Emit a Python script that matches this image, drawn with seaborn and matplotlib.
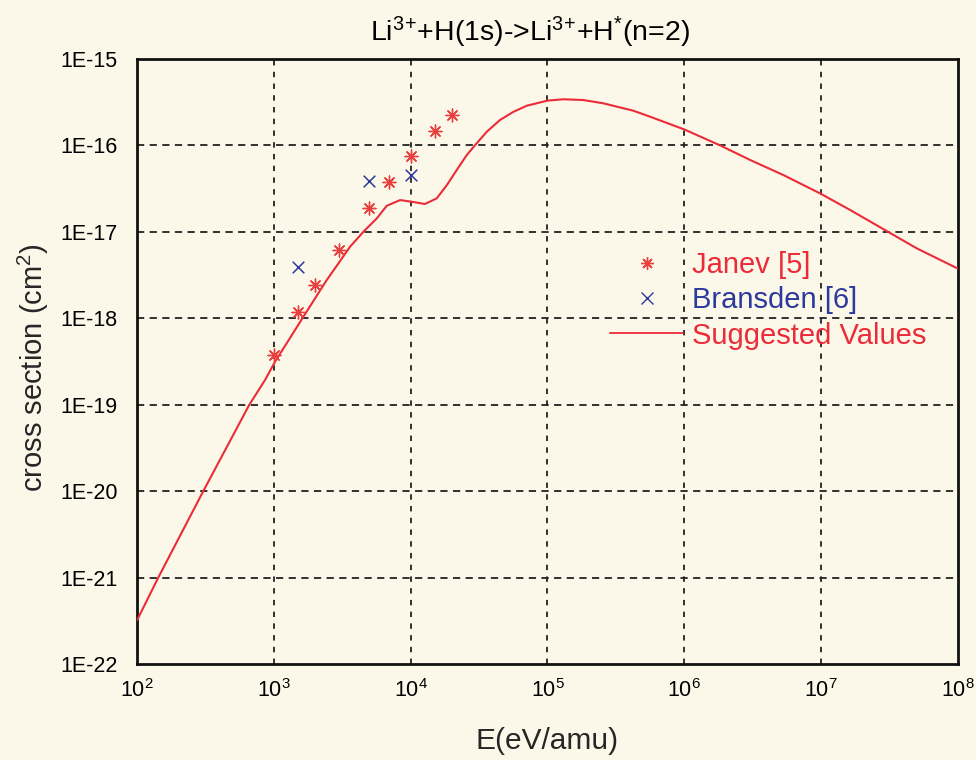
import numpy as np
import pandas as pd
import matplotlib
matplotlib.use("Agg")
import matplotlib.pyplot as plt
import matplotlib.ticker as mticker
from matplotlib.lines import Line2D
import seaborn as sns

# ---- data ----
janev_E = [1.0e3, 1.5e3, 2.0e3, 3.0e3, 5.0e3, 7.0e3, 1.0e4, 1.5e4, 2.0e4]
janev_sigma = [3.75e-19, 1.17e-18, 2.4e-18, 6.1e-18, 1.88e-17, 3.8e-17, 7.5e-17, 1.48e-16, 2.23e-16]

bransden_E = [1.5e3, 5.0e3, 1.0e4]
bransden_sigma = [3.95e-18, 3.9e-17, 4.5e-17]

suggested_E = [100, 143, 305, 662, 862, 1020, 1643, 2436, 3606, 4508, 5649, 6683,
               8365, 1.02e4, 1.27e4, 1.55e4, 1.84e4, 2.17e4, 2.57e4, 2.96e4, 3.60e4,
               4.50e4, 5.64e4, 7.06e4, 1.0e5, 1.31e5, 1.83e5, 2.56e5, 3.21e5, 4.25e5,
               5.62e5, 1.0e6, 1.83e6, 3.03e6, 5.3e6, 9.8e6, 1.63e7, 3.1e7, 5.0e7, 1.0e8]
suggested_sigma = [3.2e-22, 1.0e-21, 1.0e-20, 1.0e-19, 1.93e-19, 3.14e-19, 1.04e-18,
                   2.77e-18, 6.73e-18, 1.0e-17, 1.43e-17, 2.0e-17, 2.33e-17, 2.23e-17,
                   2.10e-17, 2.44e-17, 3.48e-17, 5.19e-17, 7.74e-17, 1.01e-16, 1.44e-16,
                   1.97e-16, 2.45e-16, 2.88e-16, 3.3e-16, 3.42e-16, 3.35e-16, 3.07e-16,
                   2.81e-16, 2.52e-16, 2.15e-16, 1.53e-16, 1.0e-16, 6.78e-17, 4.54e-17,
                   2.79e-17, 1.79e-17, 9.96e-18, 6.44e-18, 3.75e-18]

y_major = [1e-15, 1e-16, 1e-17, 1e-18, 1e-19, 1e-20, 1e-21, 1e-22]
y_labels = ["1E-15", "1E-16", "1E-17", "1E-18", "1E-19", "1E-20", "1E-21", "1E-22"]
x_major = [1e2, 1e3, 1e4, 1e5, 1e6, 1e7, 1e8]

title = r"Li$^{3}$$^{+}$+H(1s)->Li$^{3}$$^{+}$+H$^{*}$(n=2)"
xlabel = "E(eV/amu)"
ylabel = r"cross section (cm$^{2}$)"
series_names = ["Janev [5]", "Bransden [6]", "Suggested Values"]

# ---- style ----
sns.set_style("white")
plt.rcParams["font.family"] = ["Liberation Sans", "DejaVu Sans"]
plt.rcParams["mathtext.fontset"] = "custom"
plt.rcParams["mathtext.rm"] = "Liberation Sans"
plt.rcParams["mathtext.it"] = "Liberation Sans:italic"
plt.rcParams["mathtext.bf"] = "Liberation Sans:bold"

bg = "#fcf8e9"
red = "#ec2b38"
red_pts = "#e8403f"
blue = "#2b3a9c"

fig = plt.figure(figsize=(9.76, 7.6), dpi=100, facecolor=bg)
ax = fig.add_axes([137 / 976, 1 - 664 / 760, 821 / 976, 605 / 760])
ax.set_facecolor(bg)

df_line = pd.DataFrame({"E": suggested_E, "sigma": suggested_sigma})
df_j = pd.DataFrame({"E": janev_E, "sigma": janev_sigma})
df_b = pd.DataFrame({"E": bransden_E, "sigma": bransden_sigma})

ax.set_xscale("log")
ax.set_yscale("log")

sns.lineplot(data=df_line, x="E", y="sigma", ax=ax, color=red, linewidth=1.5,
             sort=False, estimator=None, zorder=3)
sns.scatterplot(data=df_j, x="E", y="sigma", ax=ax, marker=(8, 2, 0), color=red_pts,
                s=85, linewidth=1.0, zorder=4)
sns.scatterplot(data=df_b, x="E", y="sigma", ax=ax, marker="x", color=blue,
                s=70, linewidth=1.1, zorder=4)

ax.set_xlim(1e2, 1e8)
ax.set_ylim(1e-22, 1e-15)

ax.xaxis.set_major_locator(mticker.FixedLocator(x_major))
ax.xaxis.set_major_formatter(mticker.LogFormatterSciNotation())
ax.xaxis.set_minor_locator(mticker.FixedLocator([5 * v for v in x_major[:-1]]))
ax.xaxis.set_minor_formatter(mticker.NullFormatter())

ax.yaxis.set_major_locator(mticker.FixedLocator(y_major))
ax.yaxis.set_major_formatter(mticker.FixedFormatter(y_labels))
ax.yaxis.set_minor_locator(mticker.FixedLocator([5 * v for v in y_major[1:]]))
ax.yaxis.set_minor_formatter(mticker.NullFormatter())

ax.tick_params(axis="both", which="major", direction="in", length=9, width=1.8,
               labelsize=15.5, colors="black")
ax.tick_params(axis="y", which="major", pad=14)
ax.tick_params(axis="x", which="major", pad=11)
ax.tick_params(axis="both", which="minor", direction="in", length=5, width=1.8)
ax.tick_params(top=False, right=False)

for s in ax.spines.values():
    s.set_linewidth(2.0)
    s.set_color("#111111")

ax.grid(False)
for xv in x_major[1:-1]:
    ax.axvline(xv, color="#222222", linewidth=1.3, linestyle=(0, (3, 3.5)), zorder=1)
for yv in y_major[1:-1]:
    ax.axhline(yv, color="#222222", linewidth=1.3, linestyle=(0, (4, 3)), zorder=1)

ax.set_xlabel(xlabel, fontsize=21.5, labelpad=18)
ax.set_ylabel(ylabel, fontsize=21)
ax.yaxis.set_label_coords(-0.105, 0.49)
ax.set_title(title, fontsize=20.5, pad=13, color="black", x=0.479)

handles = [
    Line2D([], [], linestyle="none", marker=(8, 2, 0), color=red_pts, markersize=9, markeredgewidth=1.0),
    Line2D([], [], linestyle="none", marker="x", color=blue, markersize=8.5, markeredgewidth=1.0),
    Line2D([], [], color=red, linewidth=1.3),
]
leg = ax.legend(handles, series_names, loc="upper left", bbox_to_anchor=(0.562, 0.702),
                frameon=False, fontsize=21, handlelength=2.5, handletextpad=0.3,
                labelspacing=0.25, borderaxespad=0)
for txt, c in zip(leg.get_texts(), [red, blue, red]):
    txt.set_color(c)

fig.savefig("out.png", dpi=100, facecolor=bg)
